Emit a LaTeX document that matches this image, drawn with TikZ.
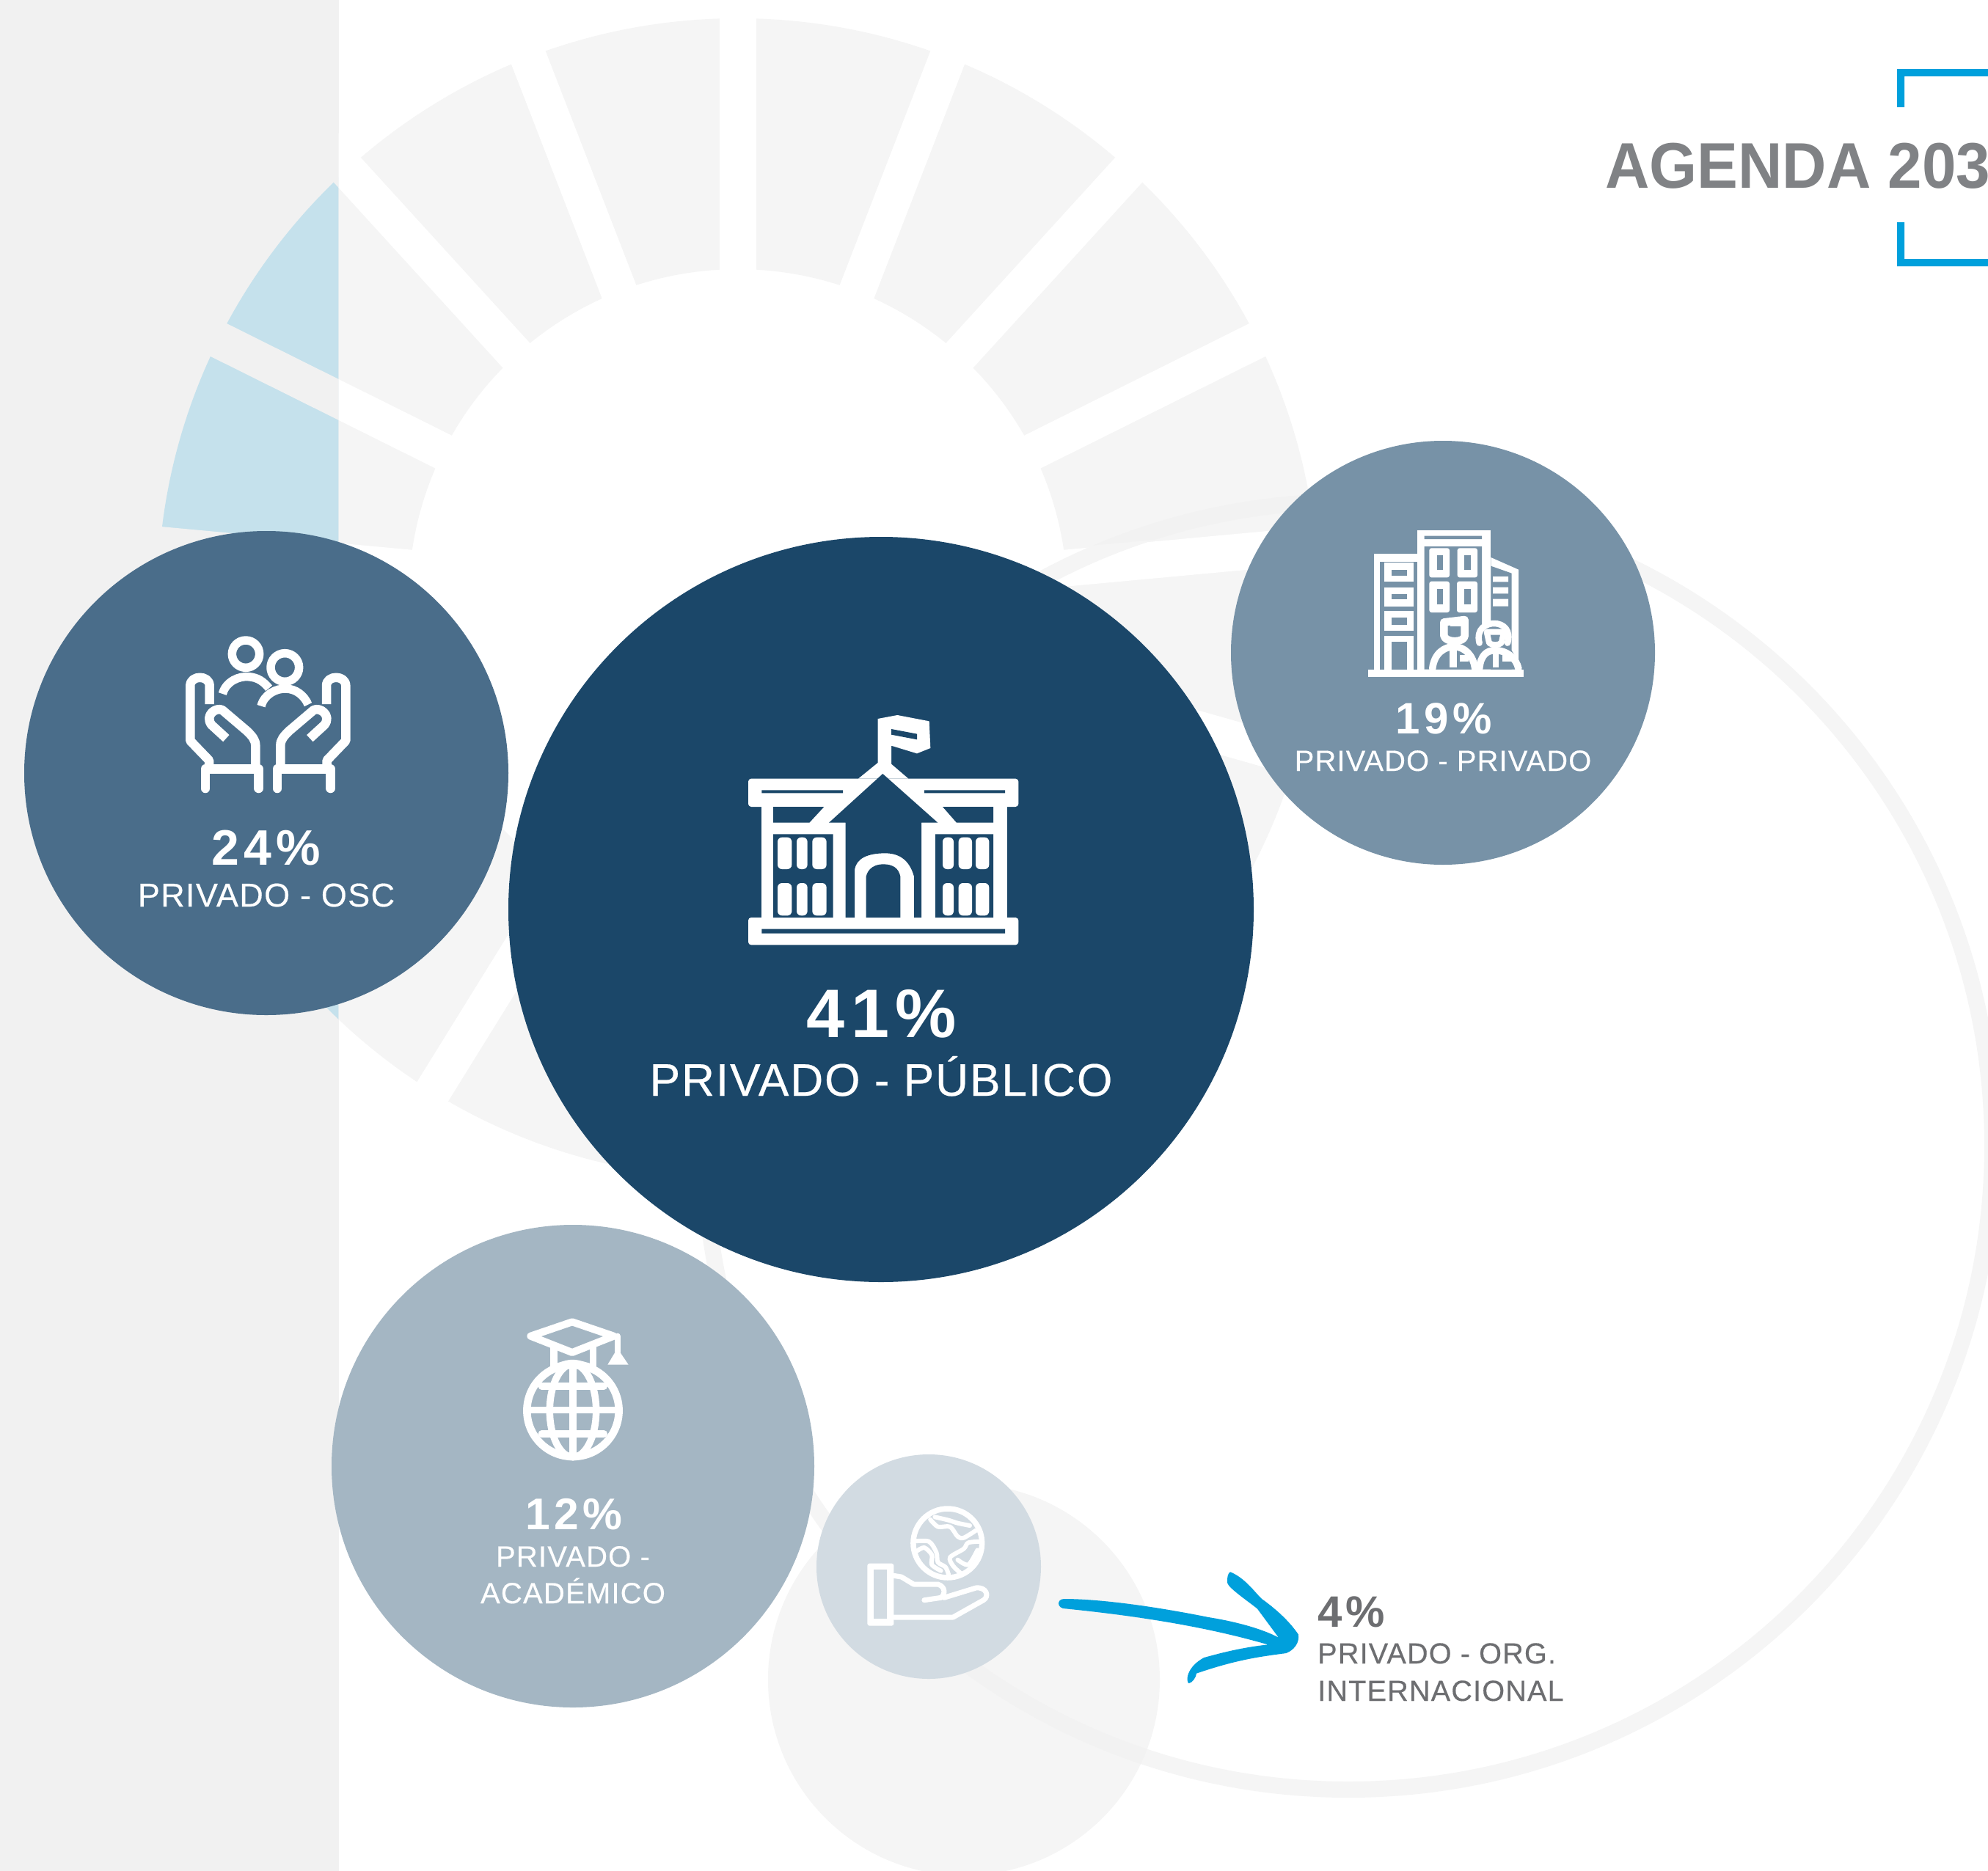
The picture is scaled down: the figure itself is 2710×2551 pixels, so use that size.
\documentclass[tikz,border=0pt]{standalone}
\usepackage{fontspec}
\setmainfont{Liberation Sans}
\newfontfamily\lab[LetterSpace=3,FakeBold=0.4]{Liberation Sans}
\newfontfamily\pct[LetterSpace=9,UprightFont={* Bold}]{Liberation Sans}
\definecolor{panel}{HTML}{F1F1F1}
\definecolor{seg}{HTML}{F5F5F5}
\definecolor{segdark}{HTML}{F2F2F2}
\definecolor{ice}{HTML}{C5E1EC}
\definecolor{cPub}{HTML}{1B4769}
\definecolor{cOsc}{HTML}{4A6D8A}
\definecolor{cPriv}{HTML}{7792A7}
\definecolor{cAca}{HTML}{A4B6C3}
\definecolor{cOrg}{HTML}{D2DBE2}
\definecolor{brand}{HTML}{00A0DC}
\definecolor{titlegray}{HTML}{808285}
\definecolor{txtgray}{HTML}{6D6E71}
\tikzset{
  bubble/.style={circle,inner sep=0pt,outer sep=0pt,draw=none},
  pctlabel/.style={inner sep=0pt,anchor=base,text=white},
  namelabel/.style={inner sep=0pt,anchor=base,text=white},
  iconline/.style={draw=white,line cap=round,line join=round},
}
\newcommand{\pc}[1]{\fontsize{#1}{#1}\pct\selectfont}
\newcommand{\lb}[1]{\fontsize{#1}{#1}\lab\selectfont}
\begin{document}
\begin{tikzpicture}[x=1pt,y=-1pt]
\useasboundingbox (0,0) rectangle (2710,2551);
\clip (0,0) rectangle (2710,2551);
\fill[white] (0,0) rectangle (2710,2551);
\fill[panel] (0,0) rectangle (461.7,2551);
% wheel, left of panel edge
\begin{scope}
  \clip (0,0) rectangle (461.7,2551);
  \fill[ice,even odd rule] (1006,816) circle[radius=791] (1006,816) circle[radius=449];
  \foreach \i in {0,...,16} \draw[panel,line width=50pt] (1006,816) -- ++({-90+\i*360/17}:860);
\end{scope}
% wheel, white area
\begin{scope}
  \clip (461.7,0) rectangle (2710,2551);
  \fill[seg,even odd rule] (1006,816) circle[radius=791] (1006,816) circle[radius=449];
  \foreach \i in {0,...,16} \draw[white,line width=50pt] (1006,816) -- ++({-90+\i*360/17}:860);
\end{scope}
% big ring
\draw[seg,line width=22pt] (1838,1562) circle[radius=878];
\begin{scope}
  \clip (1418,635) -- (1450,747) -- (1820,714) -- (1820,560) -- cycle;
  \draw[segdark,line width=22pt] (1838,1562) circle[radius=878];
\end{scope}
% pale circle
\fill[seg] (1314,2290) circle[radius=267];
\begin{scope}
  \clip (1314,2290) circle[radius=267];
  \draw[segdark,line width=22pt] (1838,1562) circle[radius=878];
\end{scope}
% bubbles
\node[bubble,fill=cOsc,minimum size=660pt] (osc) at (363,1054) {};
\node[bubble,fill=cPriv,minimum size=578pt] (priv) at (1967,890) {};
\node[bubble,fill=cPub,minimum size=1016pt] (pub) at (1201,1240) {};
\node[bubble,fill=cAca,minimum size=658pt] (aca) at (781,1999) {};
\node[bubble,fill=cOrg,minimum size=306pt] (org) at (1266,2136) {};
% title
\node[inner sep=0pt,anchor=base west,text=titlegray,font=\fontsize{88}{88}\selectfont\bfseries,xscale=0.95] (title) at (2188,256) {AGENDA 2030};
\fill[brand] (2586,94) rectangle (2710,104) (2586,94) rectangle (2596,146);
\fill[brand] (2586,353) rectangle (2710,363) (2586,303) rectangle (2596,363);
% building icon
\begin{scope}[shift={(950,920)},scale=0.33333]
  \fill[white,rounded corners=4] (210,425) rectangle (1315,540);
  \fill[white,rounded corners=4] (210,993) rectangle (1315,1105);
  \fill[white] (265,540) rectangle (1270,993);
  \fill[white] (660,425) -- (740,360) -- (795,365) -- (865,425) -- cycle;
  \fill[white] (740,180) -- (820,165) -- (950,190) -- (955,300) -- (900,322) -- (795,290) -- (795,370) -- (740,370) -- cycle;
  \fill[cPub] (795,222) -- (900,242) -- (900,265) -- (795,245) -- cycle;
  \fill[cPub] (265,472) rectangle (597,484) (930,472) rectangle (1260,484) (265,1040) rectangle (1260,1058);
  \fill[cPub] (312,540) -- (520,540) -- (460,605) -- (312,605) -- cycle;
  \fill[cPub] (1005,540) -- (1212,540) -- (1212,605) -- (1062,605) -- cycle;
  \fill[cPub] (312,652) rectangle (557,993) (975,652) rectangle (1212,993);
  \fill[cPub] (760,405) -- (985,605) -- (918,605) -- (918,993) -- (888,993) -- (888,825) .. controls (870,760) and (830,730) .. (770,730) .. controls (700,730) and (650,750) .. (645,800) -- (645,993) -- (608,993) -- (608,605) -- (540,605) -- cycle;
  \fill[cPub] (692,993) -- (692,825) .. controls (700,790) and (730,775) .. (762,775) .. controls (800,775) and (825,790) .. (832,825) -- (832,993) -- cycle;
  \foreach \a/\b in {330/388,408/452,472/530,1005/1050,1070/1125,1140/1195}{
    \fill[white,rounded corners=6] (\a,665) rectangle (\b,795);
    \fill[white,rounded corners=6] (\a,852) rectangle (\b,985);
  }
\end{scope}
% towers icon
\begin{scope}[shift={(1820,680)},scale=0.33333]
  \fill[white] (135,698) rectangle (770,728);
  \fill[white] (158,225) rectangle (335,700);
  \fill[cPriv] (183,258) rectangle (335,698);
  \foreach \t/\b/\hb in {262/338/315,362/440/412,458/540/515}{
    \fill[white] (202,\t) rectangle (322,\b);
    \fill[cPriv] (230,{\t+28}) rectangle (295,\hb);
  }
  \fill[white] (202,560) rectangle (322,698);
  \fill[cPriv] (230,585) rectangle (295,698);
  \fill[white] (335,128) rectangle (637,700);
  \fill[cPriv] (365,152) rectangle (600,165) (365,195) rectangle (600,698);
  \foreach \l/\r/\hl/\hr/\t/\b in {385/468/418/442/202/322,500/582/528/555/202/322,385/468/418/442/338/465,498/582/528/555/338/465}{
    \fill[white,rounded corners=3] (\l,\t) rectangle (\r,\b);
    \fill[cPriv] (\hl,{\t+30}) rectangle (\hr,{\b-32});
  }
  \fill[white] (637,240) -- (750,290) -- (750,698) -- (637,698) -- cycle;
  \fill[cPriv] (637,275) -- (722,305) -- (722,698) -- (637,698) -- cycle;
  \fill[white] (645,318) rectangle (708,340) (645,362) rectangle (708,388) (645,410) rectangle (708,440);
  % people
  \fill[cPriv] (395,698) .. controls (400,620) and (440,600) .. (440,590) -- (425,520) -- (450,490) -- (540,490) -- (540,600) .. controls (560,610) and (575,650) .. (580,698) -- cycle;
  \fill[cPriv] (580,698) .. controls (590,630) and (600,610) .. (600,590) -- (585,540) .. controls (600,500) and (700,500) .. (710,540) -- (700,600) .. controls (730,620) and (745,660) .. (750,698) -- cycle;
  \draw[iconline,line width=10.5pt] (445,505) -- (530,495) -- (530,560) .. controls (530,590) and (450,590) .. (445,560) -- cycle;
  \fill[white] (470,510) rectangle (515,522);
  \draw[iconline,line width=9.5pt] (398,695) .. controls (405,630) and (450,605) .. (485,605) .. controls (530,605) and (565,640) .. (572,695);
  \fill[white] (468,610) rectangle (498,690);
  \fill[white] (510,640) rectangle (545,665);
  \draw[iconline,line width=8.5pt] (590,590) .. controls (575,530) and (620,510) .. (650,510) .. controls (690,510) and (720,540) .. (705,590);
  \draw[iconline,line width=8pt] (620,545) -- (690,545) -- (680,590) .. controls (670,600) and (640,600) .. (630,590) -- cycle;
  \draw[iconline,line width=9.5pt] (590,695) .. controls (595,640) and (620,620) .. (655,620) .. controls (700,620) and (740,650) .. (750,695);
  \fill[white] (645,610) rectangle (670,690);
  \fill[white] (685,640) rectangle (720,665);
\end{scope}
% hands icon
\begin{scope}[shift={(220,840)},scale=0.33333]
  \draw[iconline,line width=11.5pt,line cap=butt] (345,155) circle[radius=56] (505,210) circle[radius=58];
  \draw[iconline,line width=11.5pt,line cap=butt] (250,318) .. controls (265,265) and (320,245) .. (355,248) .. controls (395,250) and (420,270) .. (440,295);
  \draw[iconline,line width=11.5pt,line cap=butt] (408,368) .. controls (420,320) and (470,295) .. (510,297) .. controls (550,298) and (585,325) .. (600,362);
  \foreach \m in {0,1}{
    \begin{scope}[shift={({\m*872},0)},xscale={1-2*\m}]
      \draw[iconline,line width=12.5pt,line cap=butt,line join=round] (197,360) -- (197,285) .. controls (197,240) and (118,240) .. (118,285) -- (118,510) -- (195,590) -- (195,625);
      \draw[iconline,line width=12.5pt] (180,705) -- (180,625) -- (398,625) -- (398,705);
      \draw[iconline,line width=12.5pt,line cap=butt] (385,625) -- (385,530) .. controls (385,505) and (370,490) .. (350,470) -- (250,385) .. controls (225,370) and (175,405) .. (205,445) -- (265,500);
    \end{scope}
  }
\end{scope}
% cap and globe icon
\begin{scope}[shift={(680,1770)},scale=0.33333]
  \draw[iconline,line width=10pt] (300,97) -- (470,155) -- (300,222) -- (130,155) -- cycle;
  \draw[iconline,line width=8pt] (485,155) -- (485,220);
  \fill[white] (445,272) -- (530,272) -- (485,205) -- cycle;
  \draw[iconline,line width=9.5pt,line cap=butt] (225,200) -- (225,285) (385,195) -- (385,285);
  \fill[white] (225,270) .. controls (300,245) .. (385,270) -- (385,290) -- (225,290) -- cycle;
  \draw[iconline,line width=10.5pt] (303,460) circle[radius=188];
  \draw[iconline,line width=9.5pt] (303,270) -- (303,650) (120,458) -- (490,458) (175,360) -- (430,360) (175,555) -- (430,555);
  \draw[iconline,line width=9.5pt] (303,460) ellipse[x radius=95,y radius=190];
\end{scope}
% open hand and earth icon
\begin{scope}[shift={(1150,2030)},xscale=0.41459,yscale=0.33333]
  \draw[iconline,line width=7.5pt] (342,222) ellipse[x radius=113,y radius=141];
  \begin{scope}
    \clip (342,222) ellipse[x radius=113,y radius=141];
    \draw[iconline,line width=6pt] plot[smooth] coordinates {(285,125) (310,155) (350,155) (375,195) (395,200) (435,170)};
    \draw[iconline,line width=6pt] plot[smooth] coordinates {(300,115) (345,128) (375,140) (415,150)};
    \draw[iconline,line width=6pt] plot[smooth] coordinates {(225,215) (280,215) (305,260) (310,300) (335,320) (345,350)};
    \draw[iconline,line width=6pt] plot[smooth] coordinates {(240,255) (265,240) (290,270) (290,310) (320,335)};
    \draw[iconline,line width=6pt] plot[smooth] coordinates {(455,215) (410,220) (395,245) (350,280) (360,315) (385,345)};
    \draw[iconline,line width=6pt] plot[smooth] coordinates {(375,290) (410,310) (440,250)};
  \end{scope}
  \fill[white,rounded corners=3] (78,305) rectangle (165,560);
  \fill[cOrg] (100,330) rectangle (143,530);
  \draw[iconline,line width=7pt] (165,355) -- (190,360) -- (230,390) -- (310,390) .. controls (335,400) and (335,430) .. (320,445) -- (265,455);
  \draw[iconline,line width=7pt] (330,445) -- (435,405) .. controls (470,400) and (480,440) .. (460,455) -- (360,525) -- (165,525);
  % arrow
  \fill[brand] (725,450) .. controls (830,450) and (1000,475) .. (1200,525) .. controls (1300,545) and (1380,575) .. (1430,608)
    -- (1360,490) .. controls (1330,460) and (1265,405) .. (1262,385) .. controls (1260,360) and (1265,340) .. (1272,340)
    .. controls (1320,365) and (1350,420) .. (1375,450) .. controls (1420,490) and (1465,540) .. (1495,595)
    .. controls (1500,630) and (1480,660) .. (1455,672) .. controls (1380,685) and (1300,695) .. (1160,755)
    .. controls (1160,770) and (1145,795) .. (1135,795) .. controls (1125,790) and (1125,730) .. (1185,690)
    .. controls (1230,675) and (1300,650) .. (1395,637) .. controls (1250,585) and (1050,530) .. (730,490)
    .. controls (700,490) and (700,450) .. (725,450) -- cycle;
\end{scope}
% labels
\node[pctlabel,font=\pc{93.6}] (t41) at (1202,1414) {41\%};
\node[namelabel,font=\lb{62.3}] (n41) at (1201,1494) {PRIVADO - PÚBLICO};
\node[pctlabel,font=\pc{68}] (t24) at (363,1179) {24\%};
\node[namelabel,font=\lb{45}] (n24) at (363,1236) {PRIVADO - OSC};
\node[pctlabel,font=\pc{60}] (t19) at (1968,1000) {19\%};
\node[namelabel,font=\lb{39.8}] (n19) at (1967,1051) {PRIVADO - PRIVADO};
\node[pctlabel,font=\pc{60.5}] (t12) at (782,2085) {12\%};
\node[namelabel,font=\lb{40}] (n12a) at (781,2136) {PRIVADO -};
\node[namelabel,font=\lb{40}] (n12b) at (781,2186) {ACADÉMICO};
\node[pctlabel,anchor=base west,text=txtgray,font=\pc{60}] (t4) at (1796,2218) {4\%};
\node[namelabel,anchor=base west,text=txtgray,font=\lb{39.6}] (n4a) at (1796,2268) {PRIVADO - ORG.};
\node[namelabel,anchor=base west,text=txtgray,font=\lb{39.6}] (n4b) at (1796,2319) {INTERNACIONAL};
\end{tikzpicture}
\end{document}
